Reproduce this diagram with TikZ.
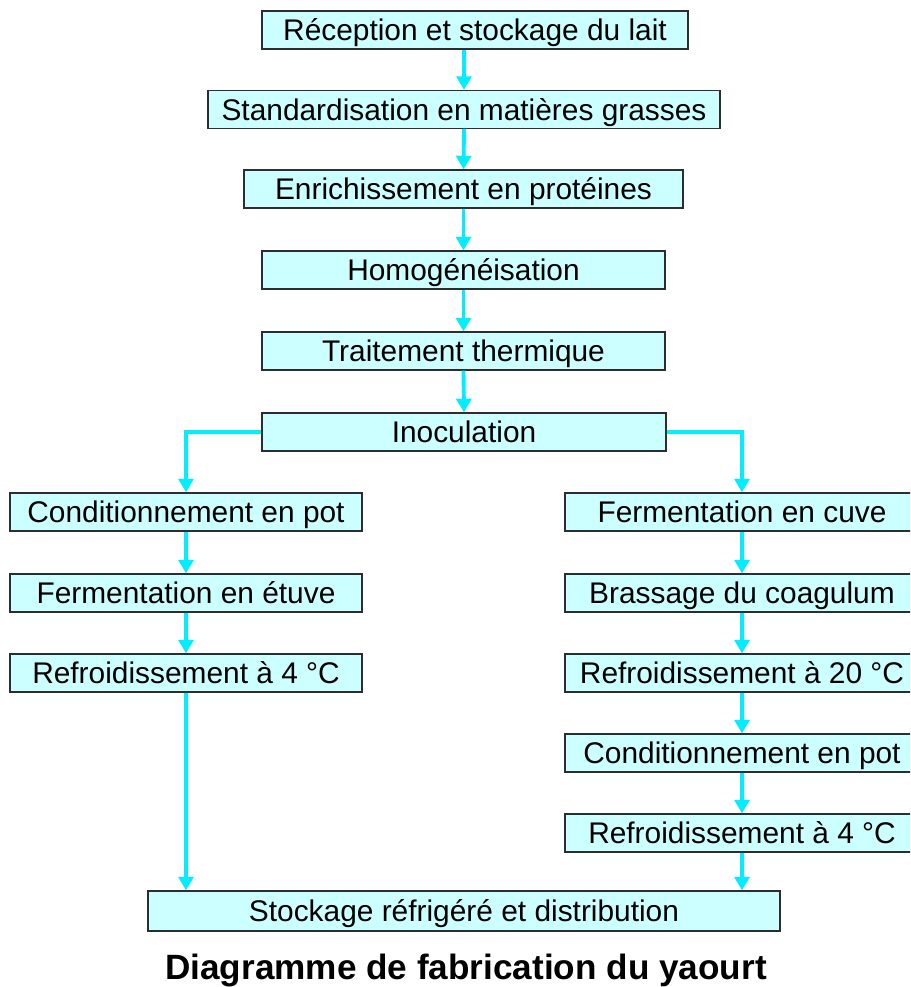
\documentclass[tikz,border=0pt]{standalone}
\usepackage{fontspec}
\setmainfont{Liberation Sans}
\usetikzlibrary{arrows.meta}
\definecolor{fondboite}{RGB}{204,255,255}
\definecolor{bordboite}{RGB}{45,45,45}
\definecolor{fleche}{RGB}{0,238,255}
\begin{document}
\begin{tikzpicture}[
        etape/.style={draw=bordboite,line width=0.8pt,fill=fondboite,minimum height=0.76cm,
                inner sep=0pt,text height=12pt,text depth=0pt,font=\fontsize{17}{20}\selectfont},
        lien/.style={draw=fleche,line width=2.2pt,-{Triangle[width=0.30cm,length=0.27cm]}}]
                \useasboundingbox (0,0) rectangle (18.2,-19.74);
                \clip (0,0) rectangle (18.2,-19.74);
                \node[etape,minimum width=8.52cm] (recep) at (9.50,-0.60) {Réception et stockage du lait};
                \node[etape,minimum width=10.24cm] (stand) at (9.28,-2.19) {Standardisation en matières grasses};
                \node[etape,minimum width=8.78cm] (enrich) at (9.27,-3.78) {Enrichissement en protéines};
                \node[etape,minimum width=8.06cm] (homog) at (9.27,-5.40) {Homogénéisation};
                \node[etape,minimum width=8.06cm] (trait) at (9.27,-7.02) {Traitement thermique};
                \node[etape,minimum width=8.08cm] (inoc) at (9.28,-8.64) {Inoculation};
                \node[etape,minimum width=7.04cm] (condA) at (3.72,-10.24) {Conditionnement en pot};
                \node[etape,minimum width=7.04cm] (fermA) at (3.72,-11.86) {Fermentation en étuve};
                \node[etape,minimum width=7.04cm] (refrA) at (3.72,-13.46) {Refroidissement à 4 °C};
                \node[etape,minimum width=7.08cm] (fermB) at (14.84,-10.24) {Fermentation en cuve};
                \node[etape,minimum width=7.08cm] (brass) at (14.84,-11.86) {Brassage du coagulum};
                \node[etape,minimum width=7.08cm] (refrB) at (14.84,-13.46) {Refroidissement à 20 °C};
                \node[etape,minimum width=7.08cm] (condB) at (14.84,-15.06) {Conditionnement en pot};
                \node[etape,minimum width=7.08cm] (refrC) at (14.84,-16.66) {Refroidissement à 4 °C};
                \node[etape,minimum width=12.64cm,minimum height=0.80cm] (stock) at (9.28,-18.22) {Stockage réfrigéré et distribution};
                \node[font=\fontsize{20}{24}\selectfont\bfseries] (titre) at (9.32,-19.40) {Diagramme de fabrication du yaourt};
                \draw[lien] (recep.south -| stand.north) -- (stand.north);
                \draw[lien] (stand.south) -- (enrich.north);
                \draw[lien] (enrich.south) -- (homog.north);
                \draw[lien] (homog.south) -- (trait.north);
                \draw[lien] (trait.south) -- (inoc.north);
                \draw[lien] (inoc.west) -| (condA.north);
                \draw[lien] (inoc.east) -| (fermB.north);
                \draw[lien] (condA) -- (fermA);
                \draw[lien] (fermA) -- (refrA);
                \draw[lien] (refrA.south) -- (refrA.south |- stock.north);
                \draw[lien] (fermB) -- (brass);
                \draw[lien] (brass) -- (refrB);
                \draw[lien] (refrB) -- (condB);
                \draw[lien] (condB) -- (refrC);
                \draw[lien] (refrC.south) -- (refrC.south |- stock.north);
            \end{tikzpicture}
\end{document}
